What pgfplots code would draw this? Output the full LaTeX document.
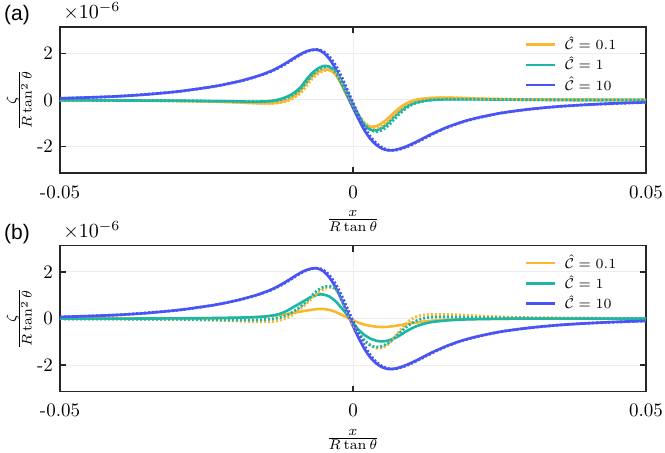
\documentclass[border=0pt]{standalone}
\usepackage{fontspec}
\usepackage{pgfplots}
\usepackage{pgfplotstable}
\pgfplotsset{compat=1.18}
\newfontfamily\helv{Liberation Sans}
\definecolor{cy}{RGB}{250,183,50}
\definecolor{ct}{RGB}{27,182,166}
\definecolor{cb}{RGB}{72,84,244}

% ---------- C = 10 (both panels) ----------
\pgfplotstableread{
x y
-0.050 0.07
-0.045 0.11
-0.040 0.16
-0.035 0.24
-0.030 0.36
-0.027 0.46
-0.024 0.57
-0.022 0.66
-0.020 0.77
-0.019 0.83
-0.018 0.90
-0.017 0.97
-0.016 1.05
-0.015 1.14
-0.014 1.24
-0.013 1.36
-0.012 1.50
-0.011 1.65
-0.010 1.81
-0.009 1.96
-0.008 2.08
-0.007 2.15
-0.006 2.15
-0.005 2.02
-0.004 1.75
-0.003 1.35
-0.002 0.82
-0.001 0.26
0.000 -0.32
0.001 -0.85
0.002 -1.32
0.003 -1.68
0.004 -1.93
0.005 -2.09
0.006 -2.16
0.007 -2.15
0.008 -2.09
0.009 -2.00
0.010 -1.89
0.011 -1.77
0.012 -1.64
0.013 -1.51
0.014 -1.39
0.015 -1.28
0.016 -1.17
0.018 -0.99
0.020 -0.84
0.022 -0.72
0.025 -0.57
0.028 -0.46
0.031 -0.37
0.035 -0.28
0.040 -0.20
0.045 -0.14
0.050 -0.10
}\Bs
\pgfplotstableread{
x y
-0.050 0.07
-0.040 0.16
-0.030 0.36
-0.024 0.57
-0.020 0.77
-0.018 0.89
-0.016 1.04
-0.014 1.22
-0.012 1.47
-0.010 1.78
-0.009 1.94
-0.008 2.06
-0.007 2.14
-0.006 2.16
-0.005 2.07
-0.004 1.85
-0.003 1.50
-0.002 1.02
-0.001 0.46
0.000 -0.12
0.001 -0.68
0.002 -1.18
0.003 -1.58
0.004 -1.86
0.005 -2.05
0.006 -2.14
0.007 -2.16
0.008 -2.11
0.009 -2.03
0.010 -1.92
0.012 -1.67
0.014 -1.41
0.016 -1.19
0.018 -1.00
0.020 -0.85
0.025 -0.57
0.030 -0.40
0.035 -0.28
0.040 -0.20
0.050 -0.10
}\Bd

% ---------- panel (a) ----------
\pgfplotstableread{
x y
-0.050 -0.01
-0.040 -0.02
-0.030 -0.04
-0.025 -0.06
-0.021 -0.09
-0.018 -0.12
-0.016 -0.14
-0.014 -0.14
-0.013 -0.12
-0.012 -0.07
-0.011 0.02
-0.010 0.17
-0.009 0.38
-0.008 0.72
-0.007 1.00
-0.006 1.20
-0.005 1.30
-0.004 1.29
-0.003 1.10
-0.002 0.68
-0.001 0.17
0.000 -0.33
0.001 -0.74
0.002 -1.02
0.003 -1.14
0.004 -1.12
0.005 -0.98
0.006 -0.78
0.007 -0.54
0.008 -0.33
0.009 -0.16
0.010 -0.05
0.011 0.02
0.012 0.06
0.013 0.08
0.015 0.10
0.018 0.09
0.021 0.06
0.025 0.04
0.030 0.02
0.040 0.01
0.050 0.00
}\Yas
\pgfplotstableread{
x y
-0.050 -0.01
-0.040 -0.02
-0.030 -0.03
-0.024 -0.05
-0.020 -0.06
-0.017 -0.07
-0.015 -0.06
-0.014 -0.04
-0.013 0.00
-0.012 0.07
-0.011 0.17
-0.010 0.32
-0.009 0.53
-0.008 0.86
-0.007 1.15
-0.006 1.35
-0.005 1.46
-0.004 1.42
-0.003 1.18
-0.002 0.72
-0.001 0.20
0.000 -0.32
0.001 -0.78
0.002 -1.10
0.003 -1.27
0.004 -1.30
0.005 -1.18
0.006 -0.98
0.007 -0.72
0.008 -0.49
0.009 -0.30
0.010 -0.17
0.011 -0.09
0.012 -0.04
0.013 -0.01
0.014 0.01
0.016 0.03
0.020 0.03
0.025 0.02
0.030 0.01
0.040 0.00
0.050 0.00
}\Tas
\pgfplotstableread{
x y
-0.050 -0.01
-0.040 -0.02
-0.030 -0.04
-0.025 -0.06
-0.021 -0.09
-0.018 -0.12
-0.016 -0.14
-0.014 -0.14
-0.013 -0.13
-0.012 -0.09
-0.011 -0.02
-0.010 0.10
-0.009 0.28
-0.008 0.58
-0.007 0.90
-0.006 1.12
-0.005 1.25
-0.004 1.28
-0.003 1.16
-0.002 0.80
-0.001 0.30
0.000 -0.22
0.001 -0.66
0.002 -0.98
0.003 -1.16
0.004 -1.20
0.005 -1.10
0.006 -0.90
0.007 -0.66
0.008 -0.43
0.009 -0.23
0.010 -0.09
0.011 0.00
0.012 0.05
0.013 0.08
0.015 0.10
0.018 0.09
0.021 0.06
0.025 0.04
0.030 0.02
0.040 0.01
0.050 0.00
}\Yad
\pgfplotstableread{
x y
-0.050 -0.01
-0.040 -0.02
-0.030 -0.03
-0.024 -0.05
-0.020 -0.06
-0.017 -0.07
-0.015 -0.07
-0.014 -0.05
-0.013 -0.02
-0.012 0.04
-0.011 0.13
-0.010 0.26
-0.009 0.45
-0.008 0.74
-0.007 1.06
-0.006 1.29
-0.005 1.41
-0.004 1.42
-0.003 1.26
-0.002 0.85
-0.001 0.33
0.000 -0.20
0.001 -0.68
0.002 -1.05
0.003 -1.28
0.004 -1.36
0.005 -1.29
0.006 -1.10
0.007 -0.84
0.008 -0.58
0.009 -0.37
0.010 -0.21
0.011 -0.11
0.012 -0.05
0.013 -0.01
0.014 0.01
0.016 0.03
0.020 0.03
0.025 0.02
0.030 0.01
0.040 0.00
0.050 0.00
}\Tad

% ---------- panel (b) ----------
\pgfplotstableread{
x y
-0.050 0.00
-0.030 0.01
-0.022 0.02
-0.018 0.05
-0.015 0.09
-0.013 0.14
-0.011 0.21
-0.009 0.30
-0.008 0.34
-0.007 0.38
-0.006 0.41
-0.005 0.41
-0.004 0.37
-0.003 0.29
-0.002 0.17
-0.001 0.05
0.000 -0.07
0.001 -0.18
0.002 -0.26
0.003 -0.31
0.004 -0.35
0.005 -0.36
0.006 -0.35
0.007 -0.32
0.008 -0.28
0.009 -0.24
0.010 -0.20
0.012 -0.13
0.014 -0.08
0.016 -0.05
0.019 -0.02
0.025 -0.01
0.030 0.00
0.050 0.00
}\Ybs
\pgfplotstableread{
x y
-0.050 0.00
-0.040 0.00
-0.030 0.01
-0.025 0.02
-0.020 0.04
-0.017 0.06
-0.015 0.09
-0.013 0.17
-0.012 0.25
-0.011 0.37
-0.010 0.52
-0.009 0.66
-0.008 0.81
-0.007 0.94
-0.006 1.03
-0.005 1.03
-0.004 0.94
-0.003 0.75
-0.002 0.47
-0.001 0.16
0.000 -0.18
0.001 -0.49
0.002 -0.71
0.003 -0.86
0.004 -0.95
0.005 -0.98
0.006 -0.94
0.007 -0.85
0.008 -0.72
0.009 -0.56
0.010 -0.42
0.011 -0.31
0.012 -0.23
0.013 -0.17
0.014 -0.13
0.016 -0.08
0.018 -0.05
0.020 -0.03
0.025 -0.01
0.030 0.00
0.050 0.00
}\Tbs
\pgfplotstableread{
x y
-0.050 -0.01
-0.040 -0.02
-0.030 -0.04
-0.025 -0.06
-0.021 -0.09
-0.018 -0.12
-0.016 -0.14
-0.014 -0.13
-0.013 -0.10
-0.012 -0.03
-0.011 0.06
-0.010 0.22
-0.009 0.42
-0.008 0.62
-0.007 0.88
-0.006 1.10
-0.005 1.26
-0.004 1.34
-0.003 1.28
-0.002 0.88
-0.001 0.30
0.000 -0.25
0.001 -0.65
0.002 -0.95
0.003 -1.15
0.004 -1.27
0.005 -1.25
0.006 -1.10
0.007 -0.82
0.008 -0.52
0.009 -0.23
0.010 -0.02
0.011 0.10
0.012 0.15
0.013 0.17
0.015 0.18
0.018 0.16
0.021 0.12
0.025 0.08
0.030 0.04
0.040 0.02
0.050 0.00
}\Ybd
\pgfplotstableread{
x y
-0.050 -0.01
-0.040 -0.02
-0.030 -0.03
-0.024 -0.05
-0.020 -0.06
-0.017 -0.06
-0.015 -0.04
-0.014 -0.02
-0.013 0.02
-0.012 0.08
-0.011 0.18
-0.010 0.33
-0.009 0.50
-0.008 0.72
-0.007 1.00
-0.006 1.22
-0.005 1.36
-0.004 1.39
-0.003 1.28
-0.002 0.90
-0.001 0.38
0.000 -0.15
0.001 -0.60
0.002 -0.95
0.003 -1.15
0.004 -1.22
0.005 -1.18
0.006 -1.05
0.007 -0.84
0.008 -0.60
0.009 -0.38
0.010 -0.20
0.011 -0.07
0.012 0.01
0.013 0.05
0.014 0.07
0.016 0.07
0.020 0.05
0.025 0.03
0.030 0.02
0.040 0.01
0.050 0.00
}\Tbd

\pgfplotsset{
  panel/.style={
    scale only axis, width=293pt, height=73pt,
    anchor=south west, clip mode=individual,
    xmin=-0.05, xmax=0.05, ymin=-3.13, ymax=3.13,
    scaled x ticks=false, scaled y ticks=false,
    xtick={-0.05,0,0.05}, xticklabels={{-0.05},{0},{0.05}},
    ytick={-2,0,2}, yticklabels={{-2},{0},{2}},
    tick align=inside, major tick length=3pt,
    axis line style={draw=black!85, line width=0.8pt},
    tick style={draw=black!85, line width=0.8pt},
    grid=major, grid style={line width=0.5pt, black!7},
    ticklabel style={font=\fontsize{9.5}{11}\selectfont},
    xticklabel style={yshift=-2.8pt},
    label style={font=\fontsize{9.5}{11}\selectfont},
    xlabel={$\frac{x}{R\tan\theta}$},
    ylabel={$\frac{\zeta}{R\tan^2\theta}$},
    every axis x label/.style={at={(axis description cs:0.5,-0.329)}, anchor=center},
    every axis y label/.style={at={(axis description cs:-0.070,0.5)}, anchor=center, rotate=90},
    legend cell align=left,
    legend style={draw=none, fill=none, font=\fontsize{7.3}{8}\selectfont,
      at={(axis description cs:0.967,0.993)}, anchor=north east,
      row sep=-2pt, column sep=2.5pt},
    legend image code/.code={\draw[#1, line width=1.3pt] (0pt,0pt) -- (14.5pt,0pt);},
    every axis plot/.append style={smooth, tension=0.45},
  },
  sol/.style={line width=1.3pt},
  dot/.style={line width=1.4pt, dash pattern=on 1pt off 1pt, forget plot},
}

\begin{document}
\begin{tikzpicture}
\useasboundingbox (0,0) rectangle (332.5pt,-226.5pt);

\begin{axis}[panel, at={(30pt,-86.5pt)}]
\addplot[cy, sol] table {\Yas};
\addlegendentry{$\hat{\mathcal{C}}=0.1$}
\addplot[ct, sol] table {\Tas};
\addlegendentry{$\hat{\mathcal{C}}=1$}
\addplot[cb, sol] table {\Bs};
\addlegendentry{$\hat{\mathcal{C}}=10$}
\addplot[cy, dot] table {\Yad};
\addplot[ct, dot] table {\Tad};
\addplot[cb, dot] table {\Bd};
\node[anchor=base west, inner sep=0, font=\fontsize{10}{12}\selectfont] at (axis description cs:0.0051,1.055) {$\times 10^{-6}$};
\node[anchor=center, inner sep=0, font=\helv\fontsize{10.5}{12}\selectfont] at (axis description cs:-0.0734,1.0822) {(a)};
\end{axis}

\begin{axis}[panel, at={(30pt,-195.8pt)}]
\addplot[cy, sol] table {\Ybs};
\addlegendentry{$\hat{\mathcal{C}}=0.1$}
\addplot[ct, sol] table {\Tbs};
\addlegendentry{$\hat{\mathcal{C}}=1$}
\addplot[cb, sol] table {\Bs};
\addlegendentry{$\hat{\mathcal{C}}=10$}
\addplot[cy, dot] table {\Ybd};
\addplot[ct, dot] table {\Tbd};
\addplot[cb, dot] table {\Bd};
\node[anchor=base west, inner sep=0, font=\fontsize{10}{12}\selectfont] at (axis description cs:0.0051,1.055) {$\times 10^{-6}$};
\node[anchor=center, inner sep=0, font=\helv\fontsize{10.5}{12}\selectfont] at (axis description cs:-0.0734,1.0822) {(b)};
\end{axis}
\end{tikzpicture}
\end{document}
